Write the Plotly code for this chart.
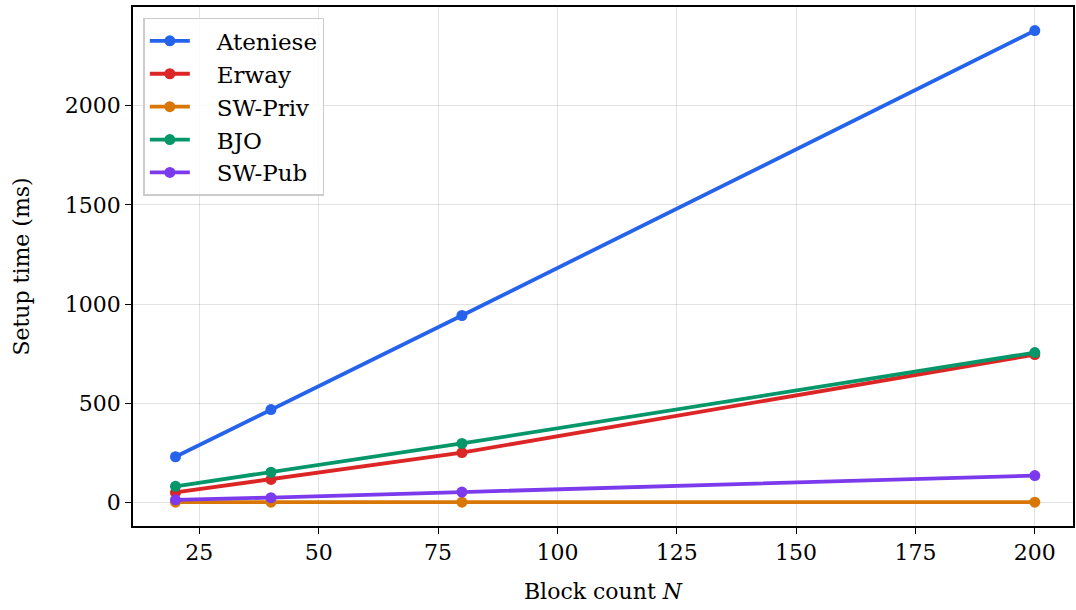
import plotly.graph_objects as go

blocks = [20, 40, 80, 200]
ateniese = [230, 468, 942, 2378]
erway = [50, 116, 251, 745]
sw_priv = [1, 1, 1, 1]
bjo = [81, 152, 297, 755]
sw_pub = [13, 24, 52, 135]

series = [
    ("Ateniese", ateniese, "#2563eb"),
    ("Erway", erway, "#dc2626"),
    ("SW-Priv", sw_priv, "#d97706"),
    ("BJO", bjo, "#059669"),
    ("SW-Pub", sw_pub, "#7c3aed"),
]

FONT = "DejaVu Serif"
fig = go.Figure()
for name, vals, color in series:
    fig.add_trace(go.Scatter(
        x=blocks, y=vals, name="\u00a0\u00a0\u00a0" + name, mode="lines+markers",
        line=dict(color=color, width=3.8),
        marker=dict(color=color, size=11),
    ))

axis_common = dict(
    showline=True, linecolor="black", linewidth=1.6, mirror=True,
    ticks="outside", ticklen=6, tickwidth=1.4, tickcolor="black",
    showgrid=True, gridcolor="rgba(0,0,0,0.11)", gridwidth=1.3,
    zeroline=False,
    tickfont=dict(family=FONT, size=22, color="black"),
)

fig.update_layout(
    width=1076, height=610,
    margin=dict(l=133, r=1, t=7, b=84),
    paper_bgcolor="white", plot_bgcolor="white",
    font=dict(family=FONT, size=22, color="black"),
    showlegend=True,
    legend=dict(
        x=0.011, y=0.979, xanchor="left", yanchor="top",
        bgcolor="rgba(255,255,255,0.85)", bordercolor="#cccccc", borderwidth=1.5,
        font=dict(family=FONT, size=23, color="black"),
        itemwidth=40, tracegroupgap=0,
    ),
    xaxis=dict(
        range=[11.1, 208.0], tickvals=[25, 50, 75, 100, 125, 150, 175, 200],
        title=dict(text="Block count <i>N</i>", font=dict(family=FONT, size=22), standoff=19),
        **axis_common,
    ),
    yaxis=dict(
        range=[-119, 2497], tickvals=[0, 500, 1000, 1500, 2000],
        title=dict(text="Setup time (ms)", font=dict(family=FONT, size=22), standoff=29),
        **axis_common,
    ),
)

fig.write_html("out.html", config={"displayModeBar": False},
               post_script="document.body.style.margin='0';")
